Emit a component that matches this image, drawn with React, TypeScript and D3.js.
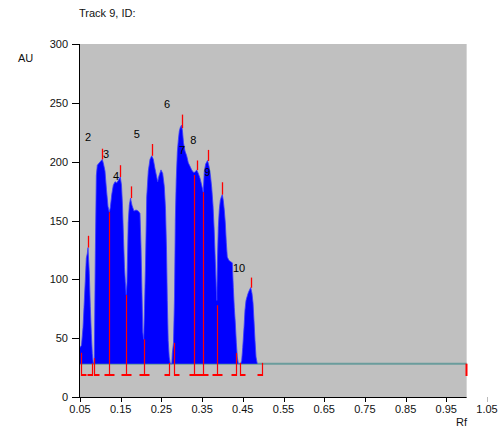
import React from 'react';
import * as d3 from 'd3';

const title = 'Track 9, ID:';
const yAxisTitle = 'AU';
const xAxisTitle = 'Rf';
const xTicks = [0.05, 0.15, 0.25, 0.35, 0.45, 0.55, 0.65, 0.75, 0.85, 0.95, 1.05];
const xTickLabels = ['0.05', '0.15', '0.25', '0.35', '0.45', '0.55', '0.65', '0.75', '0.85', '0.95', '1.05'];
const yTicks = [0, 50, 100, 150, 200, 250, 300];

const traceRf = [
  0.05, 0.0537, 0.0574, 0.0598, 0.063, 0.0655, 0.0679, 0.0697, 0.0729, 0.0753, 0.0778, 0.0802, 0.0827,
  0.0851, 0.0876, 0.0901, 0.0925, 0.0974, 0.1023, 0.1048, 0.1078, 0.1114, 0.1151, 0.1188, 0.122,
  0.1245, 0.128, 0.1318, 0.136, 0.1402, 0.1441, 0.149, 0.152, 0.1544, 0.1569, 0.1593, 0.1613, 0.1635,
  0.1655, 0.1684, 0.1711, 0.1741, 0.1777, 0.1826, 0.1876, 0.1932, 0.1974, 0.1999, 0.2023, 0.2043, 0.2065,
  0.2085, 0.2109, 0.2139, 0.2178, 0.222, 0.2262, 0.2301, 0.2343, 0.2385, 0.2409, 0.2441, 0.249, 0.2532,
  0.2571, 0.2601, 0.2626, 0.2645, 0.2667, 0.2692, 0.2719, 0.2756, 0.2768, 0.2797, 0.2822, 0.2842,
  0.2864, 0.2891, 0.2915, 0.294, 0.2964, 0.2994, 0.3018, 0.3043, 0.308, 0.3121, 0.3161, 0.3203, 0.3244,
  0.3284, 0.3326, 0.3367, 0.3407, 0.3448, 0.349, 0.3529, 0.3554, 0.3588, 0.3633, 0.367, 0.3706, 0.3736,
  0.3768, 0.3797, 0.3822, 0.3846, 0.3861, 0.3876, 0.3898, 0.3922, 0.3947, 0.3972, 0.3996, 0.4021,
  0.4045, 0.407, 0.4095, 0.4119, 0.4161, 0.4203, 0.4242, 0.4267, 0.4291, 0.4316, 0.4341, 0.4365, 0.439,
  0.4449, 0.4473, 0.4498, 0.453, 0.4554, 0.4579, 0.4603, 0.4628, 0.4652, 0.4694, 0.4726, 0.4751, 0.4775,
  0.48, 0.4825, 0.4856, 1.0,
];
const traceAU = [
  42, 44, 59, 76, 99, 118, 122, 127, 105, 77, 54, 37, 28.3,
  30, 120, 188, 197, 199, 201, 202, 198, 192, 176, 162, 157,
  161, 172, 180, 183, 182, 184, 187, 180, 163, 135, 110, 98, 87,
  97, 148, 163, 169, 163, 158, 159, 158, 156, 128, 88, 55, 49,
  75, 112, 170, 192, 202, 205, 202, 194, 187, 183, 188, 193, 190,
  179, 160, 125, 82, 48, 34, 28.3, 28.3, 37, 46, 85, 150,
  184, 208, 218, 226, 229, 231, 226, 216, 209, 205, 199, 196, 193,
  191, 191, 193, 190, 186, 180, 174, 192, 198, 201, 196, 188, 178,
  163, 142, 118, 95, 82, 115, 144, 159, 167, 170, 172, 167,
  159, 148, 131, 119, 116, 115, 114, 93, 76, 63, 46, 34, 28.3,
  28.3, 31, 42, 59, 74, 82, 85, 88, 90, 93, 88, 80, 65,
  48, 34, 28.3, 28.3,
];
const baselineAU = 28.3;

const peakRf = [0.0697, 0.1048, 0.149, 0.1741, 0.2262, 0.3006, 0.3364, 0.3636, 0.3996, 0.4692];
const peakTopAU = [137, 211, 197, 179, 215, 240, 201, 210, 182.5, 101.5];

const peakLabels = ['2', '3', '4', '5', '6', '7', '8', '9', '10'];
const labelRf = [0.0697, 0.1139, 0.1385, 0.1893, 0.2638, 0.3006, 0.3284, 0.3628, 0.4407];
const labelAU = [221, 206.5, 188, 223.5, 248.6, 210, 218.8, 191.6, 110];

const boundaryRf = [0.0517, 0.0802, 0.0851, 0.122, 0.163, 0.2065, 0.2687, 0.2817, 0.3308, 0.353, 0.3859, 0.4326, 0.4439, 0.4965, 0.9996];
const boundaryTopAU = [37.6, 28.6, 33, 157, 86.7, 49, 29, 46, 188.7, 174, 78, 37.4, 29, 29, 28.3];
const boundaryKind = ['start', 'end', 'start', 'split', 'split', 'split', 'end', 'start', 'split', 'split', 'split', 'end', 'start', 'end', 'edge'];
const bracketAU = 18.7;

const W = 500;
const H = 443;
const FONT = 'Arial, "Liberation Sans", sans-serif';
const RED = '#ff0000';

export default function App() {
  const x = d3.scaleLinear().domain([0.05, 1.05]).range([80, 487]);
  const y = d3.scaleLinear().domain([0, 300]).range([397, 44]);
  const plotRight = x(1.0);

  const pts = traceRf.map((r, i) => [r, traceAU[i]] as [number, number]);
  const area = d3.area<[number, number]>()
    .x(d => x(d[0]))
    .y0(y(baselineAU))
    .y1(d => y(d[1]));
  const line = d3.line<[number, number]>().x(d => x(d[0])).y(d => y(d[1]));
  const traceAt = d3.scaleLinear().domain(traceRf).range(traceAU);

  const bw = 5;
  const yb = Math.round(y(bracketAU));

  return (
    <svg width={W} height={H} style={{ position: 'absolute', left: 0, top: 0, background: '#fff' }} fontFamily={FONT}>
      <rect x={80} y={44} width={plotRight - 80} height={353} fill="#c0c0c0" />
      <text x={79} y={17} fontSize={11} fill="#111">{title}</text>
      <text x={18} y={62} fontSize={11} fill="#111">{yAxisTitle}</text>
      <text x={456} y={426} fontSize={11} fill="#111">{xAxisTitle}</text>

      {/* baseline */}
      <line x1={x(0.05)} x2={plotRight} y1={y(baselineAU)} y2={y(baselineAU)} stroke="#6a9c9c" strokeWidth={2} />
      {/* trace */}
      <path d={area(pts) || ''} fill="#0000ff" />
      <path d={line(pts.slice(0, -1)) || ''} fill="none" stroke="#3b3bff" strokeWidth={0.8} />

      {/* peak ticks */}
      {peakRf.map((r, i) => (
        <line key={'p' + i} x1={Math.round(x(r)) + 0.5} x2={Math.round(x(r)) + 0.5} y1={y(peakTopAU[i])} y2={y(traceAt(r))} stroke={RED} strokeWidth={1.3} />
      ))}

      {/* boundaries */}
      {boundaryRf.map((r, i) => {
        const bx = Math.round(x(r)) + 0.5;
        const k = boundaryKind[i];
        const x1 = k === 'start' ? bx - 0.5 : bx - bw;
        const x2 = k === 'end' ? bx + 0.5 : bx + bw;
        return (
          <g key={'b' + i}>
            <line x1={bx} x2={bx} y1={y(boundaryTopAU[i])} y2={yb + 1} stroke={RED} strokeWidth={k === 'edge' ? 2 : 1.2} />
            {k !== 'edge' && <line x1={x1} x2={x2} y1={yb} y2={yb} stroke={RED} strokeWidth={2} />}
          </g>
        );
      })}

      {/* peak labels */}
      {peakLabels.map((t, i) => (
        <text key={'l' + i} x={x(labelRf[i])} y={y(labelAU[i]) + 4} fontSize={11} textAnchor="middle" fill="#000">{t}</text>
      ))}

      {/* axes */}
      <line x1={79.5} x2={79.5} y1={44} y2={397} stroke="#000" />
      <line x1={79.5} x2={plotRight} y1={397.5} y2={397.5} stroke="#000" />
      {yTicks.map(t => (
        <g key={'y' + t}>
          <line x1={72} x2={80} y1={Math.round(y(t)) + 0.5} y2={Math.round(y(t)) + 0.5} stroke="#000" />
          <text x={68} y={y(t) + 4} fontSize={11} textAnchor="end" fill="#111">{t}</text>
        </g>
      ))}
      {xTicks.map((t, i) => (
        <g key={'x' + t}>
          <line x1={Math.round(x(t)) + 0.5} x2={Math.round(x(t)) + 0.5} y1={397} y2={402} stroke={t > 1 ? '#bbb' : '#000'} />
          <text x={x(t)} y={413} fontSize={11} textAnchor="middle" fill="#111">{xTickLabels[i]}</text>
        </g>
      ))}
    </svg>
  );
}
